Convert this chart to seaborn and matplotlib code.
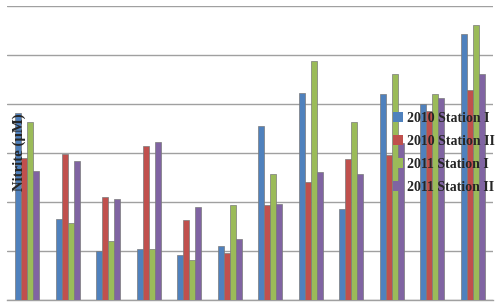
import matplotlib
matplotlib.use("Agg")
import matplotlib.pyplot as plt
import seaborn as sns
import pandas as pd
from matplotlib.patches import Patch

groups = [str(i) for i in range(1, 13)]
series = ["2010 Station I", "2010 Station II", "2011 Station I", "2011 Station II"]
s2010_I = [3.82, 1.65, 1.00, 1.04, 0.92, 1.10, 3.55, 4.22, 1.86, 4.20, 4.00, 5.43]
s2010_II = [2.89, 2.98, 2.10, 3.14, 1.63, 0.96, 1.94, 2.41, 2.88, 2.96, 3.86, 4.29]
s2011_I = [3.64, 1.57, 1.20, 1.04, 0.82, 1.94, 2.57, 4.88, 3.63, 4.61, 4.20, 5.61]
s2011_II = [2.64, 2.84, 2.06, 3.22, 1.89, 1.24, 1.96, 2.61, 2.57, 3.20, 4.12, 4.61]
colors = ["#4F81BD", "#C0504D", "#9BBB59", "#8064A2"]

rows = []
for name, vals in zip(series, [s2010_I, s2010_II, s2011_I, s2011_II]):
    for g, v in zip(groups, vals):
        rows.append({"group": g, "series": name, "value": v})
df = pd.DataFrame(rows)

sns.set_style("white")
fig = plt.figure(figsize=(5, 3.05), dpi=100)
ax = fig.add_axes([0.014, 0.0164, 0.972, 0.9636])
sns.barplot(data=df, x="group", y="value", hue="series", palette=colors,
            width=0.6, ax=ax, legend=False, saturation=1, linewidth=0.5,
            edgecolor="#7a7a7a", zorder=3)
ax.set_ylim(0, 6)
ax.set_xlim(-0.5, 11.5)
ax.set_yticks([0, 1, 2, 3, 4, 5, 6])
ax.yaxis.grid(True, color="#a0a0a0", linewidth=1.0, zorder=0)
ax.set_axisbelow(True)
ax.set_xticks([])
ax.set_yticklabels([])
ax.tick_params(left=False, bottom=False)
ax.set_xlabel("")
ax.set_ylabel("")
for s in ["left", "right", "top"]:
    ax.spines[s].set_visible(False)
ax.spines["bottom"].set_color("#a0a0a0")
ax.spines["bottom"].set_linewidth(1.0)

fig.text(0.039, 0.50, "Nitrite (µM)", rotation=90, ha="center", va="center",
         fontsize=10.6, fontweight="bold", family="Liberation Serif", zorder=10)

handles = [Patch(facecolor=c, edgecolor="none") for c in colors]
leg = fig.legend(handles, series, loc="upper left", bbox_to_anchor=(0.761, 0.675),
                 frameon=False, handlelength=0.75, handleheight=0.75,
                 handletextpad=0.25, labelspacing=0.72,
                 prop={"family": "Liberation Serif", "weight": "bold", "size": 10})
leg.set_zorder(10)

fig.savefig("out.png", dpi=100)
